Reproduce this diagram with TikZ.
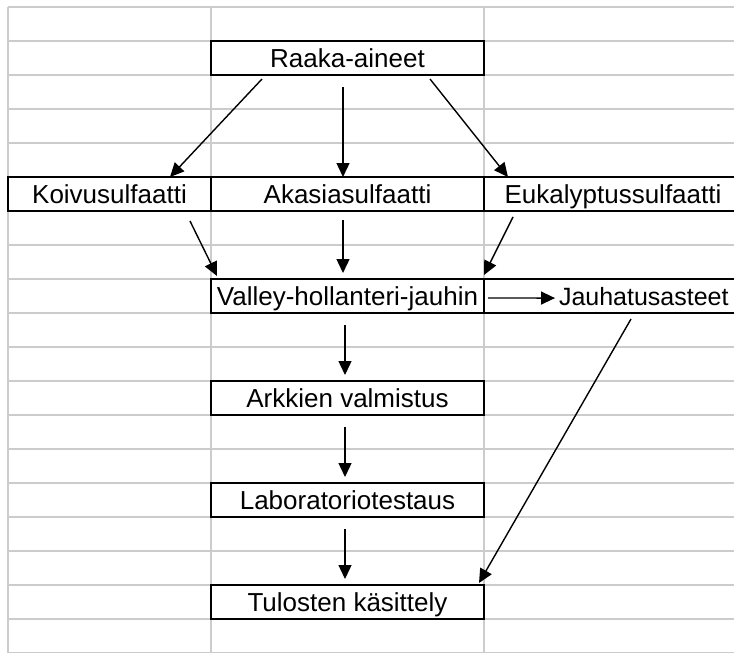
\documentclass[tikz,border=0pt]{standalone}
\usepackage{fontspec}
\setmainfont{Liberation Sans}
\usetikzlibrary{arrows.meta,calc}
\definecolor{gridgray}{HTML}{CCCCCC}
\begin{document}
\begin{tikzpicture}[x=1pt,y=-1pt,
  gridline/.style={draw=gridgray,line width=1.5pt},
  cell/.style={draw=black,line width=1.6pt,fill=white,minimum height=34pt,inner sep=0pt,outer sep=0pt,
    font=\fontsize{26}{28}\selectfont,text height=18pt,text depth=0pt},
  wide/.style={cell,minimum width=273pt},
  arr/.style={draw=black,line width=1.4pt,-{Triangle[length=14pt,width=13pt]}}]
\useasboundingbox (0,0) rectangle (734,653);
\clip (0,0) rectangle (734,653);
\fill[white] (0,0) rectangle (734,653);
% spreadsheet grid
\foreach \k in {0,...,19} \draw[gridline] (8,{7+34*\k}) -- (740,{7+34*\k});
\foreach \x in {8,211,484} \draw[gridline] (\x,7) -- (\x,660);
% cells
\node[wide] (raaka) at (347.5,58) {Raaka-aineet};
\node[cell,minimum width=203pt] (koivu) at (109.5,194) {Koivusulfaatti};
\node[wide] (akasia) at (347.5,194) {Akasiasulfaatti};
\node[cell,minimum width=258pt] (eukal) at (613,194) {Eukalyptussulfaatti};
\node[wide] (valley) at (347.5,296) {Valley-hollanteri-jauhin};
\node[cell,minimum width=258pt] (jauh) at (613,296) {};
\node[anchor=base west,inner sep=0pt,outer sep=0pt,font=\fontsize{25}{28}\selectfont] (jauhtxt) at (559,305) {Jauhatusasteet};
\node[wide] (arkki) at (347.5,398) {Arkkien valmistus};
\node[wide] (lab) at (347.5,500) {Laboratoriotestaus};
\node[wide] (tulos) at (347.5,602) {Tulosten käsittely};
% connectors
\draw[arr] ($(raaka.south west)+(51,4)$) -- ($(koivu.north east)+(-41,0)$);
\draw[arr] ($(raaka.south)+(-4.5,12)$) -- ($(akasia.north)+(-4.5,0)$);
\draw[arr] ($(raaka.south east)+(-54,4)$) -- ($(eukal.north west)+(24,0)$);
\draw[arr] ($(koivu.south east)+(-21,10)$) -- ($(valley.north west)+(6,-3)$);
\draw[arr] ($(akasia.south)+(-4.5,9)$) -- ($(valley.north)+(-4.5,-6)$);
\draw[arr] ($(eukal.south west)+(29,6)$) -- ($(valley.north east)+(0,-4)$);
\draw[arr] ($(valley.east)+(4,2)$) -- ($(jauhtxt.west)+(-4,2)$);
\draw[arr] ($(valley.south)+(-2.5,12)$) -- ($(arkki.north)+(-2.5,-6)$);
\draw[arr] ($(arkki.south)+(-2.5,12)$) -- ($(lab.north)+(-2.5,-6)$);
\draw[arr] ($(lab.south)+(-2.5,12)$) -- ($(tulos.north)+(-2.5,-6)$);
\draw[arr] ($(jauh.south west)+(147,6)$) -- ($(tulos.north east)+(-5,-2)$);
\end{tikzpicture}
\end{document}
